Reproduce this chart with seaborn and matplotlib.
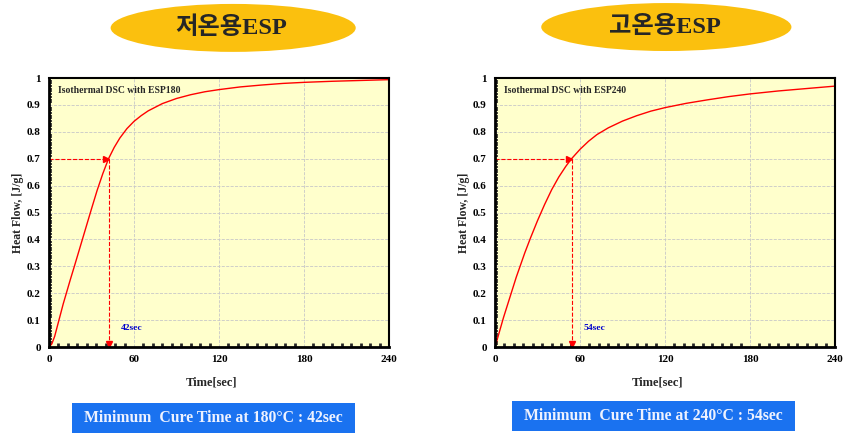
import numpy as np
import pandas as pd
import matplotlib
matplotlib.use("Agg")
import matplotlib.pyplot as plt
import seaborn as sns
from matplotlib.patches import Ellipse, Rectangle
from matplotlib.ticker import MultipleLocator, AutoMinorLocator

# data
t_low = [0, 2, 4, 6, 8, 10, 12.5, 15, 18, 21, 24, 27, 30, 34, 38, 42, 46, 50, 55, 60,
         65, 70, 80, 90, 100, 110, 120, 135, 150, 165, 180, 200, 220, 240]
hf_low = [0, 0.012, 0.04, 0.08, 0.12, 0.16, 0.205, 0.25, 0.302, 0.355, 0.408, 0.461, 0.514,
          0.583, 0.645, 0.70, 0.742, 0.777, 0.812, 0.839, 0.86, 0.878, 0.905, 0.924, 0.938,
          0.949, 0.957, 0.967, 0.974, 0.98, 0.984, 0.988, 0.991, 0.994]
t_high = [0, 3, 6, 9, 12, 15, 18, 21, 25, 30, 35, 40, 45, 50, 54, 60, 66, 72, 80, 90,
          100, 110, 120, 135, 150, 165, 180, 200, 220, 240]
hf_high = [0, 0.055, 0.11, 0.16, 0.21, 0.26, 0.305, 0.35, 0.405, 0.47, 0.53, 0.585, 0.632,
           0.672, 0.70, 0.735, 0.765, 0.79, 0.815, 0.84, 0.86, 0.877, 0.89, 0.906, 0.919,
           0.931, 0.941, 0.952, 0.961, 0.97]

titles = ["저온용ESP", "고온용ESP"]
inner_labels = ["Isothermal DSC with ESP180", "Isothermal DSC with ESP240"]
cure_times = [42, 54]
cure_level = 0.7
temps = [180, 240]
x_ticks = [0, 60, 120, 180, 240]
y_ticks = [0, 0.1, 0.2, 0.3, 0.4, 0.5, 0.6, 0.7, 0.8, 0.9, 1]
y_labels = ["0", "0.1", "0.2", "0.3", "0.4", "0.5", "0.6", "0.7", "0.8", "0.9", "1"]

sns.set_style("white")
plt.rcParams['font.family'] = ['Liberation Serif', 'Noto Sans CJK KR', 'DejaVu Sans']
plt.rcParams['font.weight'] = 'bold'

fig = plt.figure(figsize=(8.51, 4.36), dpi=100)
ax1 = fig.add_axes([0.0576, 0.204, 0.3995, 0.617])
ax2 = fig.add_axes([0.5817, 0.204, 0.3995, 0.617])

series = [(t_low, hf_low), (t_high, hf_high)]
ell_x = [0.274, 0.783]
ell_y = [0.936, 0.938]
ell_w = [0.288, 0.294]
box_x = [72 / 851, 512 / 851]
box_y = [3 / 436, 5 / 436]

for i, ax in enumerate([ax1, ax2]):
    df = pd.DataFrame({"t": series[i][0], "hf": series[i][1]})
    ax.set_facecolor("#FFFFCC")
    sns.lineplot(data=df, x="t", y="hf", ax=ax, color="red", linewidth=1)

    ct = cure_times[i]
    # dashed arrows to the cure point
    ax.plot([0, ct], [cure_level, cure_level], color="red", ls="--", lw=0.8)
    ax.plot([ct, ct], [cure_level, 0], color="red", ls="--", lw=0.8)
    ax.plot([ct - 1.8], [cure_level], marker=">", color="red", ms=5)
    ax.plot([ct], [0.012], marker="v", color="red", ms=5)
    ax.text(ct + 16.5, 0.07, f"{ct}sec", color="#0000CC", fontsize=6.8,
            fontweight="bold", ha="center", va="center")
    ax.text(6, 0.952, inner_labels[i], fontsize=6.9, fontweight="bold",
            ha="left", va="center")

    ax.set_xlim(0, 240)
    ax.set_ylim(0, 1)
    ax.set_xticks(x_ticks)
    ax.set_xticklabels([str(v) for v in x_ticks])
    ax.set_yticks(y_ticks)
    ax.set_yticklabels(y_labels)
    ax.xaxis.set_minor_locator(AutoMinorLocator(9))
    ax.yaxis.set_minor_locator(MultipleLocator(0.01))
    ax.tick_params(which="major", direction="in", length=4, width=1.2,
                   labelsize=8, pad=6, colors="black")
    ax.tick_params(which="minor", direction="in", length=2.5, width=1.2)
    ax.tick_params(axis="x", which="minor", length=3, width=2)
    ax.tick_params(axis="y", which="minor", left=True)
    ax.tick_params(axis="x", which="minor", bottom=True)
    for lab in ax.get_xticklabels() + ax.get_yticklabels():
        lab.set_fontweight("bold")
    ax.grid(True, color="#C8C8C8", ls="--", lw=0.6)
    for s in ax.spines.values():
        s.set_color("black")
        s.set_linewidth(1.5)
    ax.spines["left"].set_linewidth(2)
    ax.spines["bottom"].set_linewidth(2)
    ax.set_xlabel("Time[sec]", fontsize=9, fontweight="bold")
    ax.xaxis.set_label_coords(0.478, -0.108)
    ax.set_ylabel("Heat Flow, [J/g]", fontsize=8.5, fontweight="bold", labelpad=2)

    # title ellipse
    fig.patches.append(Ellipse((ell_x[i], ell_y[i]), ell_w[i], 0.11,
                               transform=fig.transFigure, facecolor="#FBC00E",
                               edgecolor="none"))
    fig.text(ell_x[i] - 0.002, ell_y[i], titles[i], fontsize=17.5, fontweight="bold",
             ha="center", va="center")

    # blue caption box
    fig.patches.append(Rectangle((box_x[i], box_y[i]), 283 / 851, 30 / 436,
                                 transform=fig.transFigure, facecolor="#1A72F0",
                                 edgecolor="none"))
    fig.text(box_x[i] + 283 / 851 / 2, box_y[i] + 15 / 436,
             f"Minimum  Cure Time at {temps[i]}\u00b0C : {ct}sec",
             fontsize=11.3, fontweight="bold", color="#EEF2FF",
             ha="center", va="center")

fig.savefig("out.png", dpi=100)
